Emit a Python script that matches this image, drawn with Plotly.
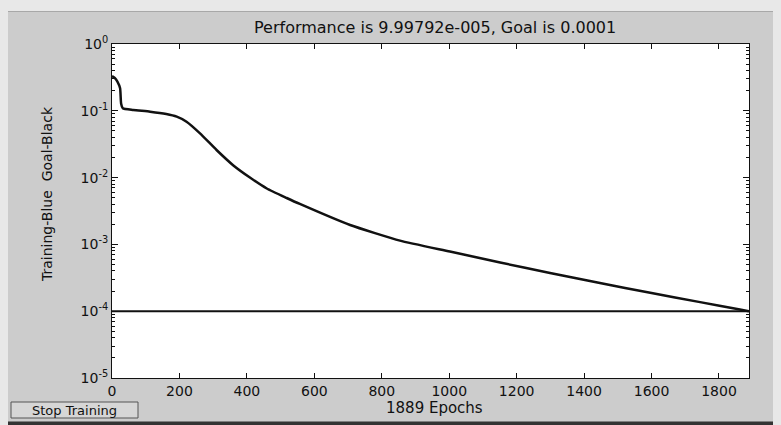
import plotly.graph_objects as go

# Training performance
epochs = [0, 8, 16, 24, 27, 32, 63, 113, 161, 192, 221, 261, 310, 360, 409, 459, 518,
          557, 706, 854, 1002, 1151, 1299, 1447, 1596, 1744, 1862, 1889]
performance = [0.332, 0.31, 0.273, 0.217, 0.129, 0.109, 0.1028, 0.0970, 0.0895, 0.0817,
               0.0687, 0.0460, 0.0259, 0.0152, 0.01002, 0.00687, 0.00495, 0.00403,
               0.00195, 0.00114, 0.000783, 0.000536, 0.000373, 0.000264, 0.000189,
               0.0001368, 0.0001059, 9.99792e-5]
goal_epochs = [0, 1889]
goal_values = [1e-4, 1e-4]

x_tickvals = [0, 200, 400, 600, 800, 1000, 1200, 1400, 1600, 1800]
y_tickvals = [1e-5, 1e-4, 1e-3, 1e-2, 1e-1, 1]
y_ticktext = ["10<sup>-5</sup>", "10<sup>-4</sup>", "10<sup>-3</sup>", "10<sup>-2</sup>",
              "10<sup>-1</sup>", "10<sup>0</sup>"]

title_text = "Performance is 9.99792e-005, Goal is 0.0001"
xlabel = "1889 Epochs"
ylabel = "Training-Blue  Goal-Black"
button_text = "Stop Training"

# page geometry (the page body adds an 8px offset)
OFF = 8
W, H = 781, 425
L, R, T, B = 112, 749, 44, 378

def px(x):
    return (x - L) / (R - L)

def py(y):
    return (B - y) / (B - T)

fig = go.Figure()
fig.add_trace(go.Scatter(x=goal_epochs, y=goal_values, mode="lines",
                         line=dict(color="#111111", width=2), showlegend=False, hoverinfo="skip"))
fig.add_trace(go.Scatter(x=epochs, y=performance, mode="lines",
                         line=dict(color="#111111", width=2.5, shape="spline", smoothing=0.5),
                         showlegend=False))

font = "DejaVu Sans, Verdana, sans-serif"

shapes = [
    # remainder of the top light strip + separator line
    dict(type="rect", xref="paper", yref="paper", x0=px(0), x1=px(W), y0=py(11), y1=py(OFF),
         fillcolor="#e8e8e8", line=dict(width=0), layer="below"),
    dict(type="line", xref="paper", yref="paper", x0=px(0), x1=px(W), y0=py(11.5), y1=py(11.5),
         line=dict(color="#a8a8a8", width=1), layer="below"),
    # bottom dark line
    dict(type="rect", xref="paper", yref="paper", x0=px(0), x1=px(W), y0=py(H), y1=py(421.5),
         fillcolor="#333333", line=dict(width=0), layer="below"),
    # button
    dict(type="rect", xref="paper", yref="paper", x0=px(11), x1=px(138), y0=py(418), y1=py(402),
         fillcolor="#d6d6d6", line=dict(color="#555555", width=1), layer="below"),
]

annotations = [
    dict(text=title_text, xref="paper", yref="paper", x=px(435), y=py(27),
         showarrow=False, font=dict(family=font, size=16, color="#111111"),
         xanchor="center", yanchor="middle"),
    dict(text=xlabel, xref="paper", yref="paper", x=px(434), y=py(408),
         showarrow=False, font=dict(family=font, size=15, color="#111111"),
         xanchor="center", yanchor="middle"),
    dict(text=ylabel, xref="paper", yref="paper", x=px(47), y=py(194), textangle=-90,
         showarrow=False, font=dict(family=font, size=14, color="#111111"),
         xanchor="center", yanchor="middle"),
    dict(text=button_text, xref="paper", yref="paper", x=px(74.5), y=py(410),
         showarrow=False, font=dict(family=font, size=13, color="#111111"),
         xanchor="center", yanchor="middle"),
]

fig.update_layout(
    width=W - OFF, height=H - OFF,
    margin=dict(l=L - OFF, r=W - R, t=T - OFF, b=H - B, pad=0),
    paper_bgcolor="#cccccc", plot_bgcolor="white",
    shapes=shapes, annotations=annotations,
    font=dict(family=font, size=14, color="#111111"),
)
fig.update_xaxes(range=[0, 1889], tickvals=x_tickvals, ticks="inside", ticklen=5,
                 tickcolor="#111111", showline=True, linecolor="#111111", linewidth=1,
                 mirror="ticks", showgrid=False, zeroline=False,
                 tickfont=dict(family=font, size=14, color="#111111"))
fig.update_yaxes(type="log", range=[-5, 0], tickvals=y_tickvals, ticktext=y_ticktext,
                 ticks="inside", ticklen=6, tickcolor="#111111", showline=True,
                 linecolor="#111111", linewidth=1, mirror="ticks", showgrid=False,
                 zeroline=False, tickfont=dict(family=font, size=14, color="#111111"),
                 minor=dict(ticks="inside", ticklen=3, tickcolor="#111111", dtick="D1",
                            showgrid=False))

fig.write_html("out.html",
               post_script="document.body.style.background='#e8e8e8';")
